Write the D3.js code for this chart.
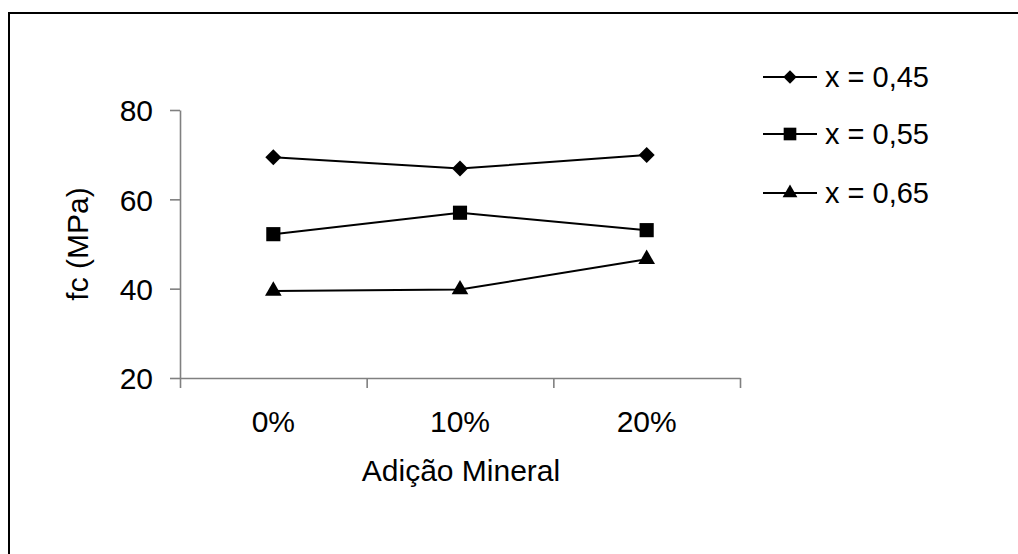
<!DOCTYPE html>
<html>
<head>
<meta charset="utf-8">
<script src="https://cdn.jsdelivr.net/npm/d3@7"></script>
<style>
	body { margin: 0; background: #fff; }
	text { font-family: "Liberation Sans", Arial, sans-serif; fill: #000; }
</style>
</head>
<body>
<svg id="chart" width="1018" height="554"></svg>
<script>
const categories = ["0%", "10%", "20%"];
const seriesNames = ["x = 0,45", "x = 0,55", "x = 0,65"];
const series045 = [69.4, 66.9, 69.9];
const series055 = [52.2, 57.0, 53.1];
const series065 = [39.5, 39.8, 46.6];
const yTicks = [20, 40, 60, 80];
const xTitle = "Adição Mineral";
const yTitle = "fc (MPa)";

const allSeries = [
	{name: seriesNames[0], values: series045, shape: "diamond"},
	{name: seriesNames[1], values: series055, shape: "square"},
	{name: seriesNames[2], values: series065, shape: "triangle"}
];

const svg = d3.select("#chart");

// outer frame
svg.append("rect")
	.attr("x", 9).attr("y", 13)
	.attr("width", 1020).attr("height", 560)
	.attr("fill", "none").attr("stroke", "#000").attr("stroke-width", 2);

const plotLeft = 180, plotRight = 740, plotTop = 110, plotBottom = 378;

const x = d3.scaleBand().domain(categories).range([plotLeft, plotRight]);
const xEdge = d3.scaleLinear().domain([0, categories.length]).range([plotLeft, plotRight]);
const y = d3.scaleLinear().domain([20, 80]).range([plotBottom, plotTop]);

// y axis
const yAxis = svg.append("g")
	.attr("transform", "translate(" + plotLeft + ",0)")
	.call(d3.axisLeft(y).tickValues(yTicks).tickSize(10).tickPadding(17).tickSizeOuter(0));
yAxis.selectAll("text").style("font-size", "30px").attr("dy", "0.36em");

// x axis (tick marks at category edges)
const xAxis = svg.append("g")
	.attr("transform", "translate(0," + plotBottom + ")")
	.call(d3.axisBottom(xEdge).tickValues(d3.range(categories.length + 1)).tickSize(10).tickFormat("").tickSizeOuter(0));

svg.selectAll(".domain, .tick line")
	.attr("stroke", "#808080").attr("stroke-width", 1.6);

svg.selectAll(".xlabel")
	.data(categories)
	.enter()
	.append("text")
	.attr("x", function(d) { return x(d) + x.bandwidth() / 2 })
	.attr("y", 432)
	.attr("text-anchor", "middle")
	.style("font-size", "30px")
	.text(function(d) { return d });

svg.append("text")
	.attr("x", 461).attr("y", 481)
	.attr("text-anchor", "middle")
	.style("font-size", "30px")
	.text(xTitle);

svg.append("text")
	.attr("transform", "translate(88,244) rotate(-90)")
	.attr("text-anchor", "middle")
	.style("font-size", "30px")
	.text(yTitle);

function symbolFor(shape, big) {
	if (shape == "diamond")
		return d3.symbol().type(d3.symbolSquare).size(big ? 128 : 90)();
	if (shape == "square")
		return d3.symbol().type(d3.symbolSquare).size(big ? 200 : 160)();
	return d3.symbol().type(d3.symbolTriangle).size(big ? 120 : 95)();
}

const line = d3.line()
	.x(function(d, i) { return x(categories[i]) + x.bandwidth() / 2 })
	.y(function(d) { return y(d) });

allSeries.forEach(function(s) {
	svg.append("path")
		.attr("d", line(s.values))
		.attr("fill", "none")
		.attr("stroke", "#000")
		.attr("stroke-width", 2);
	svg.selectAll(null)
		.data(s.values)
		.enter()
		.append("path")
		.attr("d", symbolFor(s.shape, true))
		.attr("transform", function(d, i) {
			return "translate(" + (x(categories[i]) + x.bandwidth() / 2) + "," + y(d) + ")" + (s.shape == "diamond" ? " rotate(45)" : "");
		})
		.attr("fill", "#000");
});

// legend
const legendY = [77, 134, 193];
allSeries.forEach(function(s, i) {
	const g = svg.append("g").attr("transform", "translate(0," + legendY[i] + ")");
	g.append("line")
		.attr("x1", 763).attr("x2", 817)
		.attr("stroke", "#000").attr("stroke-width", 2);
	g.append("path")
		.attr("d", symbolFor(s.shape, false))
		.attr("transform", "translate(790,0)" + (s.shape == "diamond" ? " rotate(45)" : ""))
		.attr("fill", "#000");
	g.append("text")
		.attr("x", 825).attr("dy", "0.36em")
		.style("font-size", "29px")
		.text(s.name);
});
</script>
</body>
</html>
